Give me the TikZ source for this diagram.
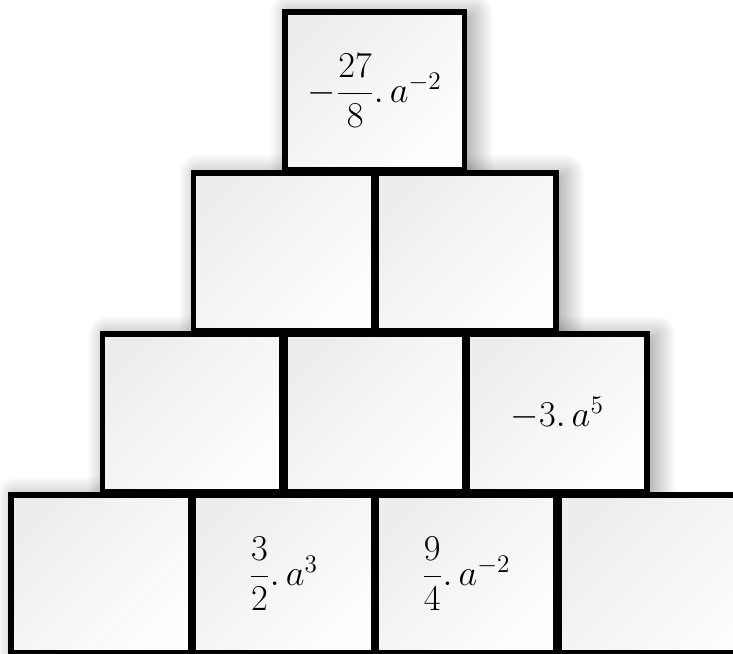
\documentclass[tikz,border=0pt]{standalone}
\usepackage{amsmath}
\usetikzlibrary{positioning,shadows.blur}
\pgfdeclarelayer{bg}
\pgfsetlayers{bg,main}

\begin{document}
\begin{tikzpicture}[
  font=\fontsize{22}{26}\selectfont,
  cell/.style={draw, line width=3.2pt, minimum width=35.94mm, minimum height=31.64mm, inner sep=0pt,
    top color=gray!14, bottom color=gray!1, shading angle=45},
  glow/.style={blur shadow={shadow xshift=4pt, shadow yshift=-2pt, shadow blur radius=11pt,
    shadow blur steps=25, shadow opacity=40}}
]
\useasboundingbox (0,0) rectangle (14.66,-13.08);
\clip (0,0) rectangle (14.66,-13.08);
\coordinate (edge) at (14.66,0);
\node[cell] (b1) at (2.02,-11.48) {};
\node[cell, right=-1.6pt of b1] (b2) {$\dfrac{3}{2}.\,a^{3}$};
\node[cell, right=-1.6pt of b2] (b3) {$\dfrac{9}{4}.\,a^{-2}$};
\node[cell, right=-1.6pt of b3, draw=none, minimum width=45mm] (b4) {};
\coordinate (b4nw) at ([xshift=1.6pt,yshift=-1.6pt]b4.north west);
\coordinate (b4sw) at ([xshift=1.6pt,yshift=1.6pt]b4.south west);
\draw[line width=3.2pt] (b4nw -| edge) -- (b4nw) -- (b4sw) -- (b4sw -| edge);
\coordinate (m12) at ($(b1.north)!0.5!(b2.north)$);
\node[cell, above=-1.6pt of m12] (c1) {};
\node[cell, right=-1.6pt of c1] (c2) {};
\node[cell, right=-1.6pt of c2] (c3) {$-3.\,a^{5}$};
\coordinate (m23) at ($(c1.north)!0.5!(c2.north)$);
\node[cell, above=-1.6pt of m23] (d1) {};
\node[cell, right=-1.6pt of d1] (d2) {};
\coordinate (m34) at ($(d1.north)!0.5!(d2.north)$);
\node[cell, above=-1.6pt of m34] (e1) {$-\dfrac{27}{8}.\,a^{-2}$};
\begin{pgfonlayer}{bg}
\clip (0,0) rectangle (14.66,-13.08);
\foreach \n in {e1,d1,d2,c1,c2,c3,b1,b2,b3}
  \path[glow] (\n.south west) rectangle (\n.north east);
\end{pgfonlayer}
\end{tikzpicture}
\end{document}
